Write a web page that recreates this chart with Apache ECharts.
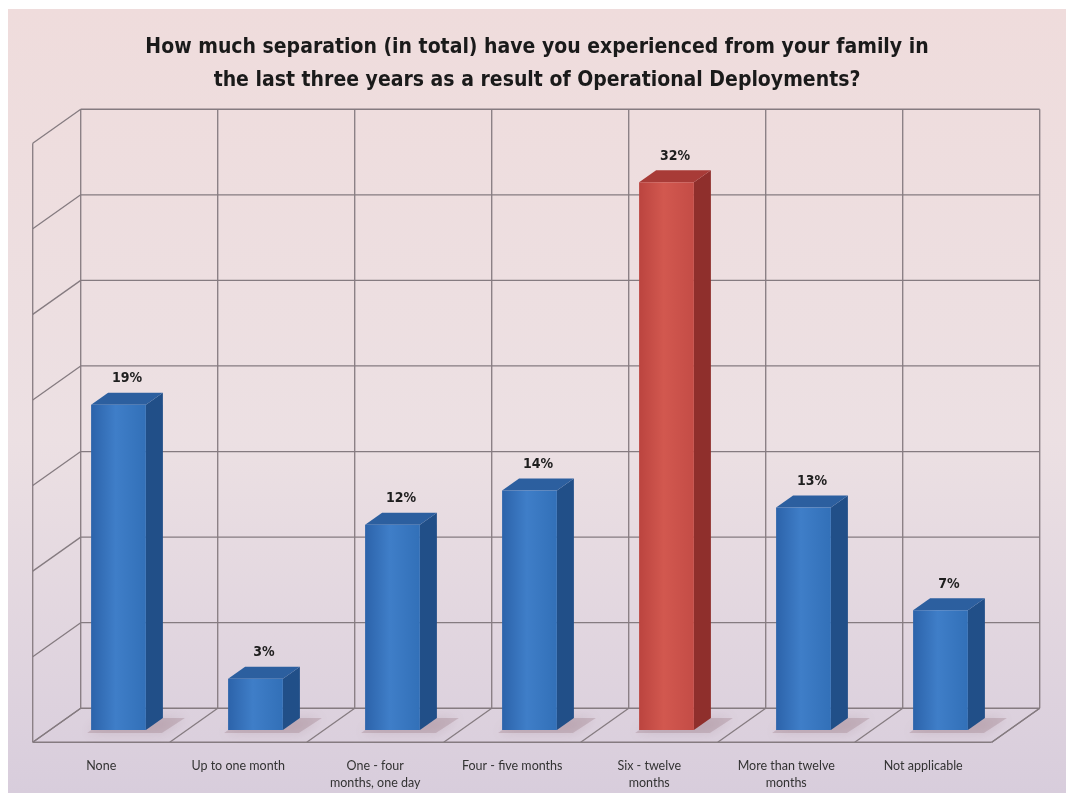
<!DOCTYPE html>
<html>
<head>
<meta charset="utf-8">
<title>Separation from family due to Operational Deployments</title>
<script src="https://cdn.jsdelivr.net/npm/echarts@6/dist/echarts.min.js"></script>
<style>
  html, body { margin: 0; padding: 0; background: #ffffff; }
  #chart { position: absolute; left: 8px; top: 9px; width: 1058px; height: 784px; }
</style>
</head>
<body>
<div id="chart"></div>
<script>
// Survey answers and their share of respondents (%)
const categories = [
  'None',
  'Up to one month',
  'One - four\nmonths, one day',
  'Four - five months',
  'Six - twelve\nmonths',
  'More than twelve\nmonths',
  'Not applicable'
];
const percentages = [19, 3, 12, 14, 32, 13, 7];
const highlightIndex = 4;           // the tallest answer is drawn in red
const valueTicks = [0, 5, 10, 15, 20, 25, 30, 35];
const boundaries = [0, 1, 2, 3, 4, 5, 6, 7];

const chart = echarts.init(document.getElementById('chart'));

// Oblique projection: full depth of the floor, front edge to back wall.
const DEPTH = [48, -34];
const BAR_PLANE = 0.36;             // share of the depth in front of the bars' front face
const BAR_DEPTH = [17, -12];
const BAR_WIDTH_RATIO = 0.40;

const GRID_COLOR = '#857b80';

function shift(p, t) { return [p[0] + DEPTH[0] * t, p[1] + DEPTH[1] * t]; }

// Walls, floor and gridlines of the box
function renderFrame(params, api) {
  const v = api.value(0);
  const slot = api.size([1, 0])[0];
  const left = api.coord([0, v]);
  const right = api.coord([categories.length - 1, v]);
  const lx = left[0] - slot / 2, rx = right[0] + slot / 2, y = left[1];
  const frontL = shift([lx, y], -BAR_PLANE);
  const backL = shift([lx, y], 1 - BAR_PLANE);
  const backR = shift([rx, y], 1 - BAR_PLANE);
  const frontR = shift([rx, y], -BAR_PLANE);
  const style = { stroke: GRID_COLOR, lineWidth: 1.3, fill: null };
  const children = [
    { type: 'line', shape: { x1: backL[0], y1: backL[1], x2: backR[0], y2: backR[1] }, style },
    { type: 'line', shape: { x1: frontL[0], y1: frontL[1], x2: backL[0], y2: backL[1] }, style }
  ];
  if (v === 0) {
    children.push({ type: 'line', shape: { x1: frontL[0], y1: frontL[1], x2: frontR[0], y2: frontR[1] }, style });
    children.push({ type: 'line', shape: { x1: frontR[0], y1: frontR[1], x2: backR[0], y2: backR[1] }, style });
  }
  return { type: 'group', children };
}

// Vertical lines on the back wall and floor dividers between answers
function renderDividers(params, api) {
  const k = api.value(0);
  const slot = api.size([1, 0])[0];
  const c = api.coord([0, 0]);
  const top = api.coord([0, valueTicks[valueTicks.length - 1]]);
  const x = c[0] - slot / 2 + k * slot;
  const bottomBack = shift([x, c[1]], 1 - BAR_PLANE);
  const topBack = shift([x, top[1]], 1 - BAR_PLANE);
  const bottomFront = shift([x, c[1]], -BAR_PLANE);
  const topFront = shift([x, top[1]], -BAR_PLANE);
  const style = { stroke: GRID_COLOR, lineWidth: 1.3 };
  const children = [
    { type: 'line', shape: { x1: bottomBack[0], y1: bottomBack[1], x2: topBack[0], y2: topBack[1] }, style },
    { type: 'line', shape: { x1: bottomFront[0], y1: bottomFront[1], x2: bottomBack[0], y2: bottomBack[1] }, style }
  ];
  if (k === 0) {
    children.push({ type: 'line', shape: { x1: bottomFront[0], y1: bottomFront[1], x2: topFront[0], y2: topFront[1] }, style });
  }
  return { type: 'group', children };
}

// 3-D column: floor shadow, front, side and top faces
function renderBar(params, api) {
  const idx = api.value(0);
  const val = api.value(1);
  const slot = api.size([1, 0])[0];
  const w = slot * BAR_WIDTH_RATIO;
  const base = api.coord([idx, 0]);
  const topPt = api.coord([idx, val]);
  const x0 = base[0] - w / 2, x1 = base[0] + w / 2;
  const yb = base[1], yt = topPt[1];
  const dx = BAR_DEPTH[0], dy = BAR_DEPTH[1];
  const red = idx === highlightIndex;
  const pal = red
    ? { f0: '#bb443f', f1: '#d2584f', f2: '#c44c46', side: '#8f2f2c', top: '#a83b37' }
    : { f0: '#2c63aa', f1: '#3f7ec8', f2: '#3270b8', side: '#214f88', top: '#2c5f9f' };
  return {
    type: 'group',
    children: [
      {
        type: 'polygon',
        shape: { points: [[x0 - 4, yb + 3], [x1 + 16, yb + 3], [x1 + dx + 22, yb + dy], [x0 + dx, yb + dy]] },
        style: { fill: 'rgba(150,115,125,0.30)', shadowBlur: 12, shadowColor: 'rgba(120,85,95,0.55)' }
      },
      {
        type: 'polygon',
        shape: { points: [[x1, yb], [x1 + dx, yb + dy], [x1 + dx, yt + dy], [x1, yt]] },
        style: { fill: pal.side }
      },
      {
        type: 'polygon',
        shape: { points: [[x0, yt], [x0 + dx, yt + dy], [x1 + dx, yt + dy], [x1, yt]] },
        style: { fill: pal.top }
      },
      {
        type: 'rect',
        shape: { x: x0, y: yt, width: w, height: yb - yt },
        style: {
          fill: new echarts.graphic.LinearGradient(0, 0, 1, 0, [
            { offset: 0, color: pal.f0 },
            { offset: 0.45, color: pal.f1 },
            { offset: 1, color: pal.f2 }
          ])
        }
      },
      {
        type: 'text',
        style: {
          text: val + '%',
          x: (x0 + x1 + dx) / 2,
          y: yt + dy - 7,
          align: 'center',
          verticalAlign: 'bottom',
          fill: '#1e1e1e',
          font: 'bold 14px "DejaVu Sans Condensed", "Open Sans", sans-serif'
        }
      }
    ]
  };
}

// Category names under the front edge of the floor
function renderCategoryLabel(params, api) {
  const idx = api.value(0);
  const base = api.coord([idx, 0]);
  const p = shift(base, -BAR_PLANE);
  return {
    type: 'text',
    style: {
      text: categories[idx],
      x: p[0],
      y: p[1] + 15,
      align: 'center',
      verticalAlign: 'top',
      fill: '#333333',
      lineHeight: 17,
      font: '12.5px Lato, "DejaVu Sans", sans-serif'
    }
  };
}

const option = {
  animation: false,
  backgroundColor: new echarts.graphic.LinearGradient(0, 0, 0, 1, [
    { offset: 0, color: '#efdcdc' },
    { offset: 0.55, color: '#ece0e3' },
    { offset: 1, color: '#d8cddc' }
  ]),
  title: {
    text: 'How much separation (in total) have you experienced from your family in\nthe last three years as a result of Operational Deployments?',
    left: 'center',
    top: 17,
    textStyle: {
      fontFamily: '"DejaVu Sans Condensed", "Open Sans", sans-serif',
      fontWeight: 'bold',
      fontSize: 21,
      lineHeight: 33,
      color: '#1a1a1a'
    }
  },
  grid: { left: 42, top: 122, width: 959, height: 599 },
  xAxis: {
    type: 'category',
    data: categories,
    show: false
  },
  yAxis: {
    type: 'value',
    min: 0,
    max: 35,
    interval: 5,
    show: false
  },
  series: [
    {
      type: 'custom',
      renderItem: renderFrame,
      data: valueTicks.map(v => [v]),
      encode: { y: 0 },
      silent: true,
      z: 1
    },
    {
      type: 'custom',
      renderItem: renderDividers,
      data: boundaries.map(k => [k]),
      silent: true,
      z: 1
    },
    {
      type: 'custom',
      renderItem: renderCategoryLabel,
      data: categories.map((c, i) => [i]),
      encode: { x: 0 },
      silent: true,
      z: 2
    },
    {
      type: 'custom',
      renderItem: renderBar,
      data: percentages.map((v, i) => [i, v]),
      encode: { x: 0, y: 1 },
      z: 3
    }
  ]
};

chart.setOption(option);
</script>
</body>
</html>
